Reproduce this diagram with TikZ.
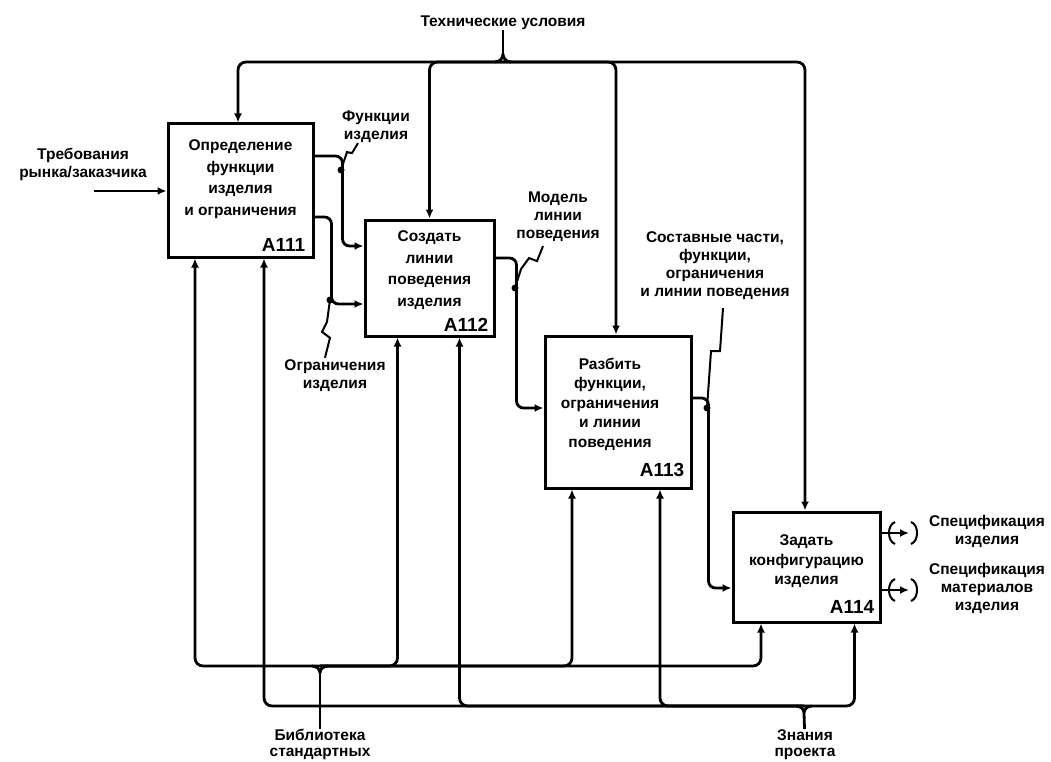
\documentclass[tikz,border=0pt]{standalone}
\usepackage{fontspec}
\setmainfont{Liberation Sans}
\usetikzlibrary{arrows.meta,positioning}

\tikzset{
  fnbox/.style={draw, line width=3pt, inner sep=0pt},
  fntext/.style={align=center, inner sep=0pt, font=\fontsize{15.5}{21.5}\selectfont\bfseries},
  fnnum/.style={inner sep=0pt, anchor=south east, font=\fontsize{19}{19}\selectfont\bfseries},
  lbl/.style={align=center, inner sep=0pt, font=\fontsize{15.5}{18}\selectfont\bfseries},
  flow/.style={line width=2.8pt, -{Latex[length=9pt,width=8pt]}},
  wire/.style={line width=2.8pt},
  leader/.style={line width=2pt},
}

\begin{document}
\begin{tikzpicture}[x=1pt,y=1pt]
    \useasboundingbox (0,0) rectangle (1051,-762);

    % Function boxes A111 .. A114
    \node[fnbox, minimum width=145pt, minimum height=133pt] (a111) at (240.5,-190.5) {};
    \node[fnbox, minimum width=129pt, minimum height=116pt] (a112) at (429.5,-278) {};
    \node[fnbox, minimum width=146pt, minimum height=152pt] (a113) at (618,-412) {};
    \node[fnbox, minimum width=147pt, minimum height=110pt] (a114) at (806.5,-567) {};

    % Box texts
    \node[fntext, below=17pt of a111.north] (t111) {Определение\\функции\\изделия\\и ограничения};
    \node[fntext, below=12pt of a112.north] (t112) {Создать\\линии\\поведения\\изделия};
    \node[fntext, font=\fontsize{15.5}{19.5}\selectfont\bfseries, below=23pt of a113.north, xshift=-8pt] (t113) {Разбить\\функции,\\ограничения\\и линии\\поведения};
    \node[fntext, font=\fontsize{15.5}{19.5}\selectfont\bfseries, below=24pt of a114.north] (t114) {Задать\\конфигурацию\\изделия};

    % Box numbers
    \node[fnnum] (n111) at ([xshift=-9pt,yshift=7pt]a111.south east) {A111};
    \node[fnnum] (n112) at ([xshift=-7pt,yshift=6pt]a112.south east) {A112};
    \node[fnnum] (n113) at ([xshift=-8pt,yshift=13pt]a113.south east) {A113};
    \node[fnnum] (n114) at ([xshift=-7pt,yshift=10pt]a114.south east) {A114};

    % Arrow labels
    \node[lbl] (tech) at (503,-23) {Технические условия};
    \node[lbl] (treb) at (83,-164) {Требования\\рынка/заказчика};
    \node[lbl] (func) at (376,-127) {Функции\\изделия};
    \node[lbl] (ogr) at (335,-376) {Ограничения\\изделия};
    \node[lbl] (model) at (558,-217) {Модель\\линии\\поведения};
    \node[lbl] (parts) at (715,-266) {Составные части,\\функции,\\ограничения\\и линии поведения};
    \node[lbl] (spec1) at (987,-531) {Спецификация\\изделия};
    \node[lbl] (spec2) at (987,-588) {Спецификация\\материалов\\изделия};
    \node[lbl, font=\fontsize{15.5}{16}\selectfont\bfseries, anchor=north] (lib) at (320,-729) {Библиотека\\стандартных};
    \node[lbl, font=\fontsize{15.5}{16}\selectfont\bfseries, anchor=north] (know) at (805,-729) {Знания\\проекта};

    % Top control bus: Технические условия
    \coordinate (tf) at (503,-54);
    \coordinate (tb) at (503,-62);
    \draw[wire] (tech) -- (tf);
    \draw[wire] (tf) to[out=-90,in=0] (495,-62) (tf) to[out=-90,in=180] (511,-62);
    \draw[flow, rounded corners=8pt] (tb) -| ([xshift=-2.5pt]a111.north);
    \draw[flow, rounded corners=8pt] (tb) -| (a112.north);
    \draw[flow, rounded corners=8pt] (tb) -| ([xshift=-2pt]a113.north);
    \draw[flow, rounded corners=8pt] (tb) -| ([xshift=-1.5pt]a114.north);

    % Input: Требования рынка/заказчика
    \coordinate (trin) at (94,-191);
    \draw[flow] (trin) -- (a111.west |- trin);

    % Box to box flows
    \draw[flow, rounded corners=7pt] ([yshift=34.5pt]a111.east) -- ++(28,0) |- ([yshift=32pt]a112.west);
    \draw[flow, rounded corners=7pt] ([yshift=-26.5pt]a111.east) -- ++(17,0) |- ([yshift=-26pt]a112.west);
    \draw[flow, rounded corners=7pt] ([yshift=20pt]a112.east) -- ++(21,0) |- ([yshift=4pt]a113.west);
    \draw[flow, rounded corners=7pt] ([yshift=14pt]a113.east) -- ++(16,0) |- ([yshift=-21pt]a114.west);

    % Junction dots and leader squiggles
    \coordinate (j1) at (341,-170);
    \coordinate (j2) at (330,-300);
    \coordinate (j3) at (515,-288);
    \coordinate (j4) at (707,-408);
    \foreach \j in {j1,j2,j3,j4} \fill (\j) circle (3.5pt);
    \draw[leader] ([xshift=-18pt]func.south) -- ++(-6,-10) -- ++(-5,1) -- (j1);
    \draw[leader] ([xshift=-10pt,yshift=2pt]ogr.north) -- ++(5,20) -- ++(-8,6) -- ++(5,10) -- (j2);
    \draw[leader] ([xshift=-15pt,yshift=-4pt]model.south) -- ++(-6,-15) -- ++(-8,3) -- ++(-8,-11) -- (j3);
    \draw[leader] ([xshift=8pt,yshift=-8pt]parts.south) -- ++(-3,-43) -- ++(-9,0) -- (j4);

    % Outputs of A114 with tunnel brackets
    \coordinate (o1) at (909,-533);
    \coordinate (o2) at (909,-590);
    \draw[flow] ([yshift=34pt]a114.east) -- (o1);
    \draw[flow] ([yshift=-23pt]a114.east) -- (o2);
    \foreach \o in {o1,o2} {
      \draw[leader] ([shift={(-14pt,11pt)}]\o) to[out=200,in=160] ([shift={(-14pt,-11pt)}]\o);
      \draw[leader] ([shift={(2pt,11pt)}]\o) to[out=-20,in=20] ([shift={(2pt,-11pt)}]\o);
    }

    % Mechanism bus 1: Библиотека стандартных
    \coordinate (lf) at (320,-673);
    \coordinate (lb) at (320,-666);
    \draw[wire] (lib) -- (lf);
    \draw[wire] (lf) to[out=90,in=0] (312,-666) (lf) to[out=90,in=180] (328,-666);
    \draw[flow, rounded corners=8pt] (lb) -| ([xshift=-45.5pt]a111.south);
    \draw[flow, rounded corners=8pt] (lb) -| ([xshift=-32pt]a112.south);
    \draw[flow, rounded corners=8pt] (lb) -| ([xshift=-46pt]a113.south);
    \draw[flow, rounded corners=8pt] (lb) -| ([xshift=-45.5pt]a114.south);

    % Mechanism bus 2: Знания проекта
    \coordinate (kf) at (804,-713);
    \coordinate (kb) at (804,-706);
    \draw[wire] (know) -- (kf);
    \draw[wire] (kf) to[out=90,in=0] (796,-706) (kf) to[out=90,in=180] (812,-706);
    \draw[flow, rounded corners=8pt] (kb) -| ([xshift=23.5pt]a111.south);
    \draw[flow, rounded corners=8pt] (kb) -| ([xshift=30pt]a112.south);
    \draw[flow, rounded corners=8pt] (kb) -| ([xshift=42pt]a113.south);
    \draw[flow, rounded corners=8pt] (kb) -| ([xshift=48pt]a114.south);

\end{tikzpicture}
\end{document}
